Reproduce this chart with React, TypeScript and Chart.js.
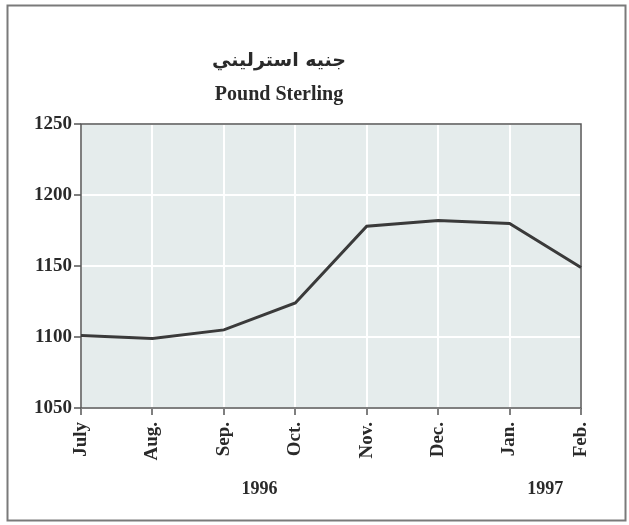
import React, { useEffect, useRef } from "react";
import { Chart, registerables } from "chart.js";

Chart.register(...registerables);

const titleArabic = "جنيه استرليني";
const titleEnglish = "Pound Sterling";
const months = ["July", "Aug.", "Sep.", "Oct.", "Nov.", "Dec.", "Jan.", "Feb."];
const rates = [1101, 1099, 1105, 1124, 1178, 1182, 1180, 1149];
const yearLabels = ["1996", "1997"];
const yearFromIdx = [0, 6];
const yearToIdx = [5, 7];
const yMin = 1050;
const yMax = 1250;
const yStep = 50;

const SERIF = "'Liberation Serif', 'Times New Roman', serif";

const decorPlugin = {
  id: "decor",
  beforeDraw(chart: any) {
    const { ctx, chartArea } = chart;
    ctx.save();
    ctx.fillStyle = "#ffffff";
    ctx.fillRect(0, 0, chart.width, chart.height);
    ctx.strokeStyle = "#7a7a7a";
    ctx.lineWidth = 2;
    ctx.strokeRect(7.5, 5.5, 618, 515);
    ctx.fillStyle = "#e5ecec";
    ctx.fillRect(chartArea.left, chartArea.top, chartArea.right - chartArea.left, chartArea.bottom - chartArea.top);
    ctx.restore();
  },
  beforeDatasetsDraw(chart: any) {
    const { ctx, chartArea } = chart;
    ctx.save();
    ctx.strokeStyle = "#555555";
    ctx.lineWidth = 1.5;
    ctx.strokeRect(chartArea.left, chartArea.top, chartArea.right - chartArea.left, chartArea.bottom - chartArea.top);
    ctx.restore();
  },
  afterDraw(chart: any) {
    const { ctx } = chart;
    const xs = chart.scales.x;
    ctx.save();
    ctx.fillStyle = "#2a2a2a";
    ctx.textAlign = "center";
    ctx.textBaseline = "middle";
    ctx.font = "bold 19px 'DejaVu Sans', 'Noto Sans', sans-serif";
    ctx.fillText(titleArabic, 279, 61);
    ctx.font = `bold 20px ${SERIF}`;
    ctx.fillText(titleEnglish, 279, 95);
    ctx.font = `bold 18px ${SERIF}`;
    yearLabels.forEach((t, i) => {
      const x = (xs.getPixelForValue(yearFromIdx[i]) + xs.getPixelForValue(yearToIdx[i])) / 2;
      ctx.fillText(t, x, 489);
    });
    ctx.restore();
  },
};

export default function App() {
  const ref = useRef<HTMLCanvasElement | null>(null);
  useEffect(() => {
    document.body.style.margin = "0";
    const chart = new Chart(ref.current as HTMLCanvasElement, {
      type: "line",
      data: {
        labels: months,
        datasets: [
          {
            data: rates,
            borderColor: "#3a3a3a",
            borderWidth: 3,
            pointRadius: 0,
            tension: 0,
            fill: false,
          },
        ],
      },
      options: {
        responsive: false,
        animation: false,
        layout: { padding: { top: 124, right: 48, left: 0, bottom: 0 } },
        plugins: { legend: { display: false }, title: { display: false }, tooltip: { enabled: false } },
        scales: {
          x: {
            offset: false,
            grid: { color: "#ffffff", lineWidth: 2, tickColor: "#555555", tickLength: 7, tickWidth: 1.5 },
            border: { display: false },
            ticks: {
              color: "#2a2a2a",
              font: { family: SERIF, size: 19, weight: "bold" },
              minRotation: 90,
              maxRotation: 90,
              padding: 7,
              autoSkip: false,
            },
            afterFit(s: any) {
              s.height = 117;
            },
          },
          y: {
            min: yMin,
            max: yMax,
            grid: { color: "#ffffff", lineWidth: 2, tickColor: "#555555", tickLength: 7, tickWidth: 1.5 },
            border: { display: false },
            ticks: {
              stepSize: yStep,
              color: "#2a2a2a",
              font: { family: SERIF, size: 19, weight: "bold" },
              padding: 2,
              callback: (v: any) => String(v),
            },
            afterFit(s: any) {
              s.width = 81;
            },
          },
        },
      },
      plugins: [decorPlugin],
    });
    return () => chart.destroy();
  }, []);
  return (
    <div style={{ width: 629, height: 525 }}>
      <canvas ref={ref} width={629} height={525} />
    </div>
  );
}
